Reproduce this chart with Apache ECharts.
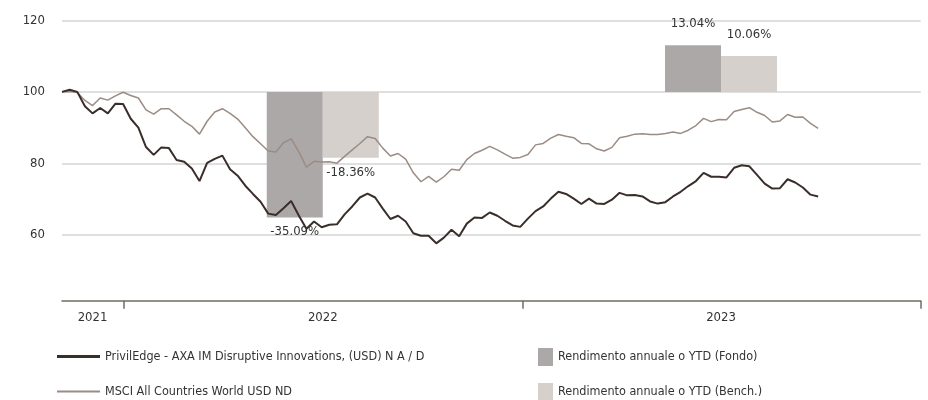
<!DOCTYPE html>
<html><head><meta charset="utf-8">
<script src="https://cdn.jsdelivr.net/npm/echarts@6/dist/echarts.min.js"></script>
<style>html,body{margin:0;padding:0;background:#fff}#c{width:928px;height:400px}</style>
</head><body><div id="c"></div>
<script>
// ---- data ----
const fundName = 'PrivilEdge - AXA IM Disruptive Innovations, (USD) N A / D';
const benchName = 'MSCI All Countries World USD ND';
const barFundName = 'Rendimento annuale o YTD (Fondo)';
const barBenchName = 'Rendimento annuale o YTD (Bench.)';

// weekly observations starting on this date
const startDate = [2021, 10, 5];
const fund = [
100.0,100.6,100.0,96.0,94.0,95.5,94.0,96.7,96.6,92.5,
90.0,84.6,82.4,84.5,84.3,81.0,80.5,78.6,75.1,80.2,
81.3,82.2,78.4,76.6,73.8,71.5,69.3,66.0,65.6,67.5,
69.5,65.5,61.8,63.8,62.2,62.9,63.0,65.8,68.0,70.5,
71.6,70.5,67.4,64.5,65.4,63.8,60.5,59.8,59.8,57.7,
59.3,61.5,59.7,63.2,64.9,64.8,66.3,65.4,64.0,62.7,
62.3,64.6,66.7,68.0,70.2,72.1,71.5,70.2,68.7,70.2,
68.8,68.7,69.9,71.8,71.1,71.2,70.8,69.4,68.8,69.2,
70.8,72.1,73.7,75.1,77.4,76.3,76.3,76.1,78.8,79.5,
79.2,76.8,74.4,73.0,73.1,75.6,74.7,73.3,71.3,70.8
];
const bench = [
100.0,100.1,99.8,97.6,96.2,98.3,97.7,98.9,99.9,99.0,
98.3,95.0,93.8,95.3,95.3,93.6,91.8,90.4,88.2,91.8,
94.4,95.3,94.0,92.4,90.0,87.5,85.5,83.5,83.2,85.8,
86.9,83.3,79.0,80.6,80.4,80.5,80.1,82.0,83.8,85.6,
87.5,87.0,84.3,82.1,82.8,81.2,77.4,74.9,76.4,74.8,
76.3,78.4,78.1,81.1,82.8,83.7,84.8,83.8,82.6,81.5,
81.7,82.5,85.2,85.6,87.1,88.1,87.6,87.2,85.6,85.5,
84.1,83.5,84.5,87.2,87.6,88.2,88.3,88.1,88.1,88.4,
88.8,88.4,89.3,90.6,92.6,91.7,92.3,92.2,94.5,95.1,
95.6,94.3,93.4,91.6,91.9,93.7,92.9,93.0,91.2,89.8
];
const barDates = ['2022-07-02', '2023-07-02'];
const fundReturns = [-35.09, 13.04];
const benchReturns = [-18.36, 10.06];
const yearTickDates = ['2022-01-01', '2023-01-01', '2024-01-01'];
const yearLabelDates = ['2021-12-03', '2022-07-02', '2023-07-02'];
const yearLabels = ['2021', '2022', '2023'];
const yTicks = [60, 80, 100, 120];

// ---- build ----
function ts(s){ const p = s.split('-').map(Number); return new Date(p[0], p[1]-1, p[2]).getTime(); }
const dates = fund.map((_, i) => new Date(startDate[0], startDate[1], startDate[2] + 7*i).getTime());
const fundData = dates.map((d, i) => [d, fund[i]]);
const benchData = dates.map((d, i) => [d, bench[i]]);
function barData(vals){
  return vals.map((v, i) => ({ value: [ts(barDates[i]), v], label: { distance: v < 0 ? 8 : 15 } }));
}
const labelTs = yearLabelDates.map(ts);
const FONT = "'DejaVu Sans Condensed', Roboto, sans-serif";
const legendText = { color: '#333', fontSize: 12.5, fontFamily: FONT };

const chart = echarts.init(document.getElementById('c'), null, {renderer: 'canvas'});
chart.setOption({
  animation: false,
  grid: { left: 62, right: 7.3, top: 20.3, bottom: 93.3, containLabel: false },
  xAxis: {
    type: 'value',
    min: new Date(startDate[0], startDate[1], startDate[2]).getTime(),
    max: ts('2024-01-01'),
    offset: -6,
    axisLine: { show: true, onZero: false, lineStyle: { color: '#6f6f60', width: 1.5 } },
    axisTick: { show: true, length: 8, inside: false, customValues: yearTickDates.map(ts), lineStyle: { color: '#6f6f60', width: 1.5 } },
    axisLabel: {
      customValues: labelTs,
      formatter: (v) => { const k = labelTs.indexOf(v); return k >= 0 ? yearLabels[k] : ''; },
      color: '#333', fontSize: 13, fontFamily: FONT, margin: 10
    },
    splitLine: { show: false }
  },
  yAxis: [{
    type: 'value', min: 40, max: 120, interval: 20,
    axisLine: { show: false }, axisTick: { show: false },
    axisLabel: { formatter: (v) => yTicks.indexOf(v) >= 0 ? String(v) : '', color: '#333', fontSize: 13, fontFamily: FONT, margin: 17 },
    splitLine: { show: true, lineStyle: { color: ['rgba(0,0,0,0)', '#d4d4d4', '#d4d4d4', '#d4d4d4', '#d4d4d4'], width: 1.5 } }
  }, {
    type: 'value', min: -60, max: 20, show: false, splitLine: { show: false }
  }],
  legend: [
    { data: [{ name: fundName }], left: 57, top: 350, padding: 0, icon: 'rect', itemWidth: 43, itemHeight: 3, itemGap: 8,
      textStyle: legendText, selectedMode: false },
    { data: [{ name: benchName }], left: 57, top: 385, padding: 0, icon: 'rect', itemWidth: 43, itemHeight: 2, itemGap: 8,
      textStyle: legendText, selectedMode: false },
    { data: [{ name: barFundName }], left: 538, top: 348, padding: 0, icon: 'rect',
      itemWidth: 15, itemHeight: 18, textStyle: legendText, selectedMode: false },
    { data: [{ name: barBenchName }], left: 538, top: 383, padding: 0, icon: 'rect',
      itemWidth: 15, itemHeight: 18, textStyle: legendText, selectedMode: false }
  ],
  series: [
    { name: barFundName, type: 'bar', yAxisIndex: 1, barWidth: 56, barGap: '0%', z: 1,
      itemStyle: { color: '#aca8a7' }, data: barData(fundReturns),
      label: { show: true, position: 'outside', color: '#333', fontSize: 13, fontFamily: FONT,
        formatter: (p) => p.value[1].toFixed(2) + '%' } },
    { name: barBenchName, type: 'bar', yAxisIndex: 1, barWidth: 56, barGap: '0%', z: 1,
      itemStyle: { color: '#d5d0cc' }, data: barData(benchReturns),
      label: { show: true, position: 'outside', color: '#333', fontSize: 13, fontFamily: FONT,
        formatter: (p) => p.value[1].toFixed(2) + '%' } },
    { name: benchName, type: 'line', symbol: 'none', z: 3, data: benchData,
      lineStyle: { color: '#9b8c84', width: 1.5 }, itemStyle: { color: '#9b8c84' } },
    { name: fundName, type: 'line', symbol: 'none', z: 4, data: fundData,
      lineStyle: { color: '#3a2e2b', width: 2 }, itemStyle: { color: '#3a2e2b' } }
  ]
});
</script>
</body></html>
